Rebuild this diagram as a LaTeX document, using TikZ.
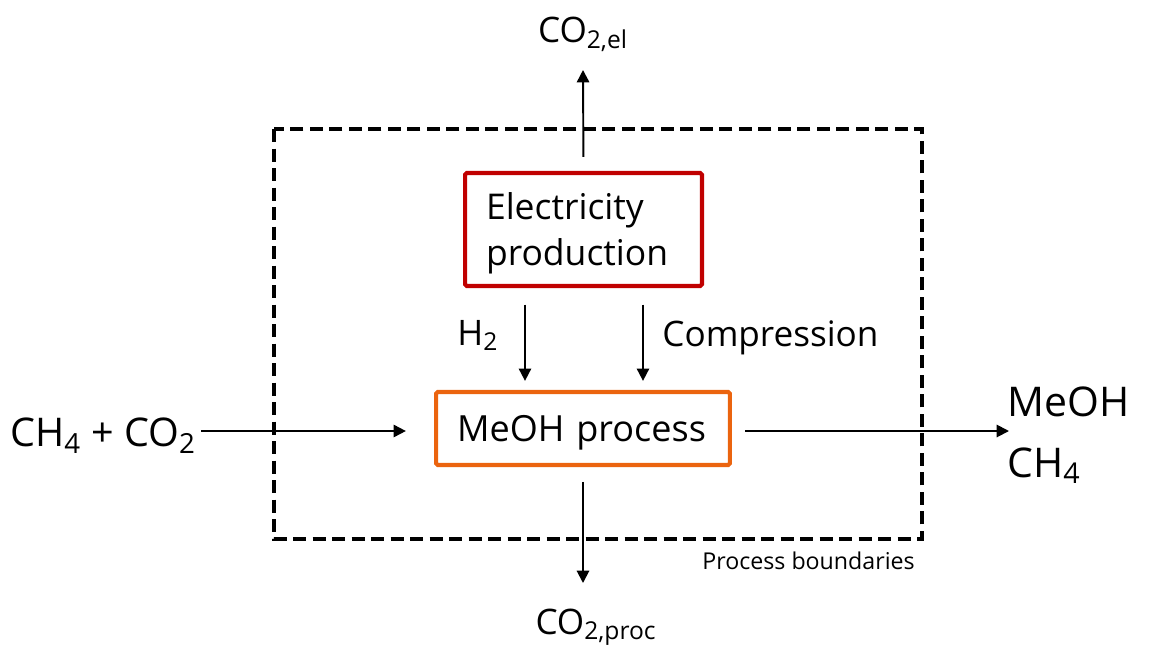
\documentclass[tikz,border=0pt]{standalone}
\usepackage{fontspec}
\setmainfont{Open Sans}
\usetikzlibrary{arrows.meta,calc}
\definecolor{boxred}{RGB}{192,0,0}
\definecolor{boxorange}{RGB}{235,100,15}
\newcommand{\mysub}[1]{\textsubscript{#1}}
\tikzset{
  arr/.style={line width=1.1pt,-{Triangle[length=7pt,width=7pt]}},
  procbox/.style={draw,line width=2.3pt,rounded corners=1pt,inner ysep=0pt,align=left},
  lbl/.style={inner sep=0pt,font=\fontsize{20}{24}\selectfont},
  biglbl/.style={inner sep=0pt,font=\fontsize{23.3}{28}\selectfont},
  boundary/.style={line width=2.3pt,dash pattern=on 7.5pt off 3.6pt}
}
\begin{document}
\begin{tikzpicture}[x=0.02cm,y=-0.02cm]
\useasboundingbox (0,0) rectangle (1161,647);
% process boundary
\draw[boundary] (274,129) rectangle (922,539);
\node[lbl,font=\fontsize{13.2}{16}\selectfont,anchor=base west] (pb) at (702,569) {Process boundaries};
% boxes
\node[procbox,draw=boxred,inner xsep=0.42cm,text width=3.9cm,minimum height=2.26cm,
      font=\fontsize{20.2}{26}\selectfont] (el) at (583.5,229.5) {\rule{0pt}{20pt}Electricity\\production};
\node[procbox,draw=boxorange,inner xsep=0.42cm,text width=5.04cm,minimum height=1.46cm,
      font=\fontsize{20.5}{24}\selectfont] (meoh) at (583,428.5) {\rule{0pt}{19.5pt}MeOH process};
% labels
\node[lbl,anchor=base] (co2el) at (583,42) {CO\mysub{2,el}};
\node[lbl,anchor=base] (co2proc) at (596,634) {CO\mysub{2,proc}};
\node[lbl,anchor=base west] (h2) at (457,345) {H\mysub{2}};
\node[lbl,anchor=base west] (comp) at (662,346) {Compression};
\node[lbl,font=\fontsize{22.5}{27}\selectfont,anchor=base west] (inp) at (10,446) {CH\mysub{4} + CO\mysub{2}};
\node[biglbl,anchor=base west] (out1) at (1007,416) {MeOH};
\node[biglbl,anchor=base west] (out2) at (1007,477) {CH\mysub{4}};
% coordinates
\coordinate (elTop) at (583,70);
\coordinate (procBot) at (583,583);
\coordinate (h2x) at (525,0);
\coordinate (cpx) at (643,0);
\coordinate (inS) at (201,431);
\coordinate (outE) at (1009,431);
% connectors
\draw[arr,shorten <=8pt] (el.north) -- (elTop);
\draw[arr,shorten <=8.5pt] (meoh.south) -- (procBot);
\draw[arr,shorten <=9.5pt,shorten >=5.2pt] (el.south -| h2x) -- (meoh.north -| h2x);
\draw[arr,shorten <=9.5pt,shorten >=5.2pt] (el.south -| cpx) -- (meoh.north -| cpx);
\draw[arr,shorten >=16pt] (inS) -- (meoh.west |- inS);
\draw[arr,shorten <=7.5pt] (meoh.east |- outE) -- (outE);
\end{tikzpicture}
\end{document}
